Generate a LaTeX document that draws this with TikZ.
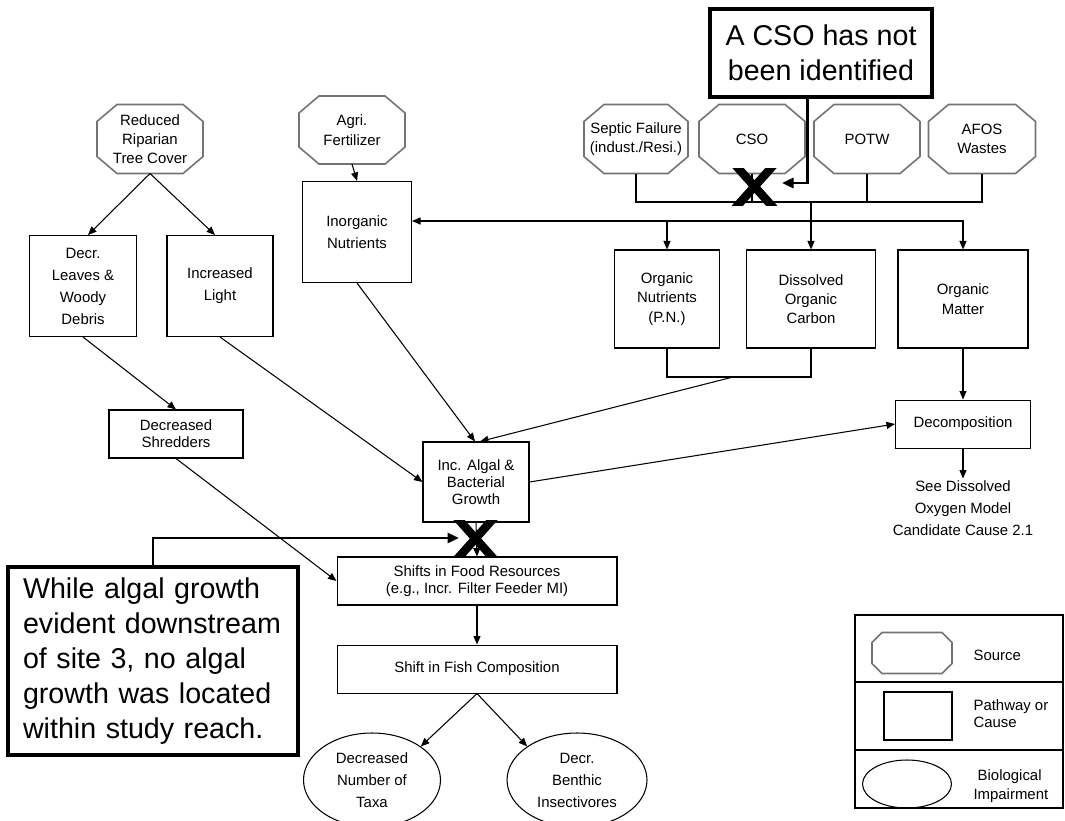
\documentclass[tikz,border=0pt]{standalone}
\usepackage{fontspec}
\setmainfont{Liberation Sans}
\usepackage{tikz}
\usetikzlibrary{positioning}
\usetikzlibrary{shapes.geometric}
\usetikzlibrary{arrows.meta}
\newcommand\labfont{\fontsize{8.5}{11}\selectfont}
\newcommand\widefont{\fontsize{8.5}{12.5}\selectfont}
\newcommand\tightfont{\fontsize{8.5}{9.8}\selectfont}
\newcommand\notefont{\fontsize{16.3}{20}\selectfont}
\tikzset{src/.style={rectangle, minimum width=2.1cm, minimum height=1.36cm, inner sep=0pt, align=center, font=\labfont}}
\tikzset{srcline/.style={draw=black!55, line width=0.9pt}}
\tikzset{cause/.style={rectangle, draw, inner sep=0pt, align=center, font=\labfont}}
\tikzset{impair/.style={ellipse, draw, inner sep=0pt, align=center, font=\widefont}}
\tikzset{note/.style={rectangle, draw, line width=2.2pt, inner sep=0pt, font=\notefont}}
\tikzset{arr/.style={-{Triangle[length=1.7mm,width=1.4mm]}}}
\tikzset{callout/.style={line width=1.7pt, -{Triangle[length=2.3mm,width=2mm]}}}
\tikzset{cross/.style={line width=0.17cm}}
% octagon round a source node: #1 node, #2 x chamfer, #3 y chamfer
\newcommand\srcframe[3]{\draw[srcline] ([xshift=#2]#1.north west) -- ([xshift=-#2]#1.north east) -- ([yshift=-#3]#1.north east) -- ([yshift=#3]#1.south east) -- ([xshift=-#2]#1.south east) -- ([xshift=#2]#1.south west) -- ([yshift=#3]#1.south west) -- ([yshift=-#3]#1.north west) -- cycle;}

\begin{document}
\begin{tikzpicture}[x=0.02cm, y=-0.02cm, line width=0.6pt]
\useasboundingbox (0,0) rectangle (1065,821);

% sources
\node[src] (rrtc) at (150,139) {Reduced\\Riparian\\Tree Cover};
\node[src, minimum height=1.34cm] (agri) at (352,130) {Agri.\\Fertilizer};
\node[src, minimum width=2.06cm] (septic) at (636,139) {Septic Failure\\(indust./Resi.)};
\node[src] (cso) at (752,139) {CSO};
\node[src] (potw) at (867,139) {POTW};
\node[src, minimum width=2.12cm] (afos) at (982,139) {AFOS\\Wastes};
\foreach \n in {rrtc,agri,septic,cso,potw,afos}
  \srcframe{\n}{0.4cm}{0.34cm};

% pathways and causes
\node[cause, minimum width=2.14cm, minimum height=2.02cm, font=\widefont] (leaves) at (83,286) {Decr.\\Leaves \&\\Woody\\Debris};
\node[cause, minimum width=2.12cm, minimum height=2.02cm, font=\widefont] (light) at (220,286) {Increased\\Light};
\node[cause, minimum width=2.18cm, minimum height=2.02cm, font=\widefont] (inorg) at (357,232) {Inorganic\\Nutrients};
\node[cause, minimum width=2.1cm, minimum height=1.96cm] (orgnut) at (667,299) {Organic\\Nutrients\\(P.N.)};
\node[cause, minimum width=2.58cm, minimum height=1.96cm] (doc) at (811,299) {Dissolved\\Organic\\Carbon};
\node[cause, minimum width=2.6cm, minimum height=1.96cm] (orgmat) at (963,299) {Organic\\Matter};
\node[cause, below=1.02cm of orgmat, minimum width=2.7cm, minimum height=0.96cm] (decomp) {Decomposition};
\node[below=0.6cm of decomp, inner sep=1pt, align=center, font=\widefont] (seedo) {See Dissolved\\Oxygen Model\\Candidate Cause 2.1};
\node[cause, minimum width=2.68cm, minimum height=0.96cm, font=\tightfont] (shred) at (176,434) {Decreased\\Shredders};
\node[cause, minimum width=2.12cm, minimum height=1.6cm, font=\tightfont] (algal) at (476,482) {Inc. Algal \&\\Bacterial\\Growth};
\node[cause, minimum width=5.6cm, minimum height=0.96cm, font=\tightfont] (food) at (477,581) {Shifts in Food Resources\\(e.g., Incr. Filter Feeder MI)};
\node[cause, below=0.78cm of food, minimum width=5.6cm, minimum height=0.96cm] (fish) {Shift in Fish Composition};

% impairments
\node[impair, minimum width=2.74cm, minimum height=1.88cm] (taxa) at (372,780) {Decreased\\Number of\\Taxa};
\node[impair, minimum width=2.8cm, minimum height=1.88cm] (benthic) at (577,780) {Decr.\\Benthic\\Insectivores};

% notes
\node[note, minimum width=4.44cm, minimum height=1.76cm, align=center] (csonote) at (821,53) {A CSO has not\\been identified};
\node[note, minimum width=5.8cm, minimum height=3.76cm, text width=5.2cm, align=left] (algnote) at (153,661) {While algal growth\\evident downstream\\of site 3, no algal\\growth was located\\within study reach.};

\coordinate (bus) at (811,202);
\coordinate (split) at (811,221);
\coordinate (brk) at (733,377);
\coordinate (csotip) at (782,183);
\coordinate (algtip) at (459,538);

\draw[arr] (rrtc.south) -- ([xshift=0.1cm]leaves.north);
\draw[arr] (rrtc.south) -- ([xshift=-0.1cm]light.north);
\draw[arr] (agri.south) -- (inorg.north);
\draw (septic.south) |- (bus);
\draw (afos.south) |- (bus);
\draw (cso.south) -- (cso.south |- bus);
\draw (potw.south) -- (potw.south |- bus);
\draw[arr] (bus) -- (doc.north);
\draw[arr] (split) -- (split -| inorg.east);
\draw[arr] (split) -| (orgnut.north);
\draw[arr] (split) -| (orgmat.north);
\draw (orgnut.south) |- (brk) -| (doc.south);
\draw[arr] (brk) -- ([xshift=0.08cm]algal.north);
\draw[arr] (inorg.south) -- ([xshift=-0.02cm]algal.north);
\draw[arr] (light.south) -- (algal.west);
\draw[arr] (orgmat.south) -- (decomp.north);
\draw[arr] (algal.east) -- (decomp.west);
\draw[arr] (decomp.south) -- (seedo.north);
\draw[arr] (leaves.south) -- (shred.north);
\draw[arr] (shred.south) -- (food.west);
\draw[arr] (algal.south) -- (food.north);
\draw[arr] (food.south) -- (fish.north);
\draw[arr] (fish.south) -- (taxa.north east);
\draw[arr] (fish.south) -- (benthic.north west);

% crossed-out links
\begin{scope}
\clip (732,168) rectangle (777,205);
\draw[cross] (731.4,160.6) -- (777.6,212.4) (777.6,160.6) -- (731.4,212.4);
\end{scope}
\begin{scope}
\clip (453,520) rectangle (498,557);
\draw[cross] (452.4,512.6) -- (498.6,564.4) (498.6,512.6) -- (452.4,564.4);
\end{scope}
\draw[callout] ([xshift=-0.28cm]csonote.south) |- (csotip);
\draw[callout] (algnote.north) |- (algtip);

% legend
\draw (855,615) rectangle (1063,808);
\draw (855,682) -- (1063,682);
\draw (855,750) -- (1063,750);
\node[src, minimum width=1.58cm, minimum height=0.8cm] (keysrc) at (912,653) {};
\srcframe{keysrc}{0.2cm}{0.2cm}
\node[cause, minimum width=1.36cm, minimum height=0.96cm] (keycause) at (918,716) {};
\node[impair, minimum width=1.78cm, minimum height=0.96cm] (keyimp) at (907,784) {};
\node[anchor=west, inner sep=0pt, font=\labfont] (keysrctxt) at (973,655) {Source};
\node[anchor=west, inner sep=0pt, align=left, font=\tightfont] (keycausetxt) at (973,714) {Pathway or\\Cause};
\node[anchor=west, inner sep=0pt, align=left, font=\labfont] (keyimptxt) at (973,786) {\ Biological\\Impairment};
\end{tikzpicture}
\end{document}
